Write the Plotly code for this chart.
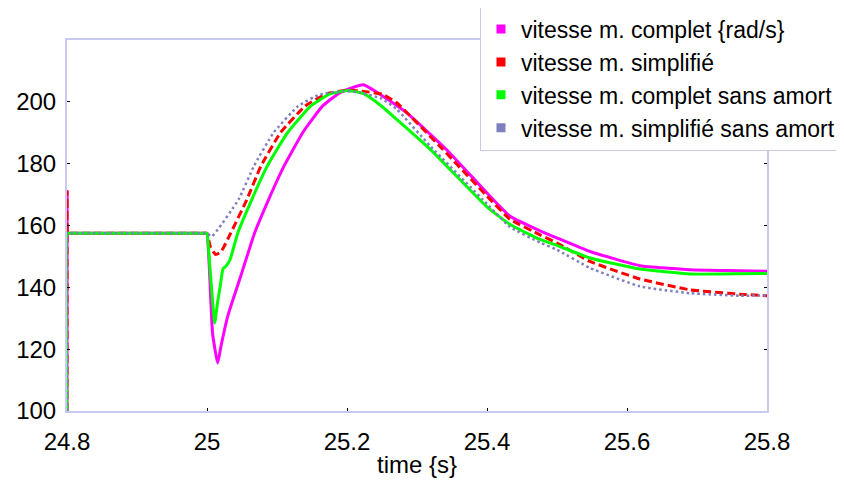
import plotly.graph_objects as go

# --- data ---
t_complet = [24.8, 24.8002, 24.8008, 24.802, 24.9, 24.998, 25.0, 25.003, 25.008, 25.0153, 25.02,
             25.03, 25.048, 25.068, 25.088, 25.11, 25.138, 25.165, 25.19, 25.2233, 25.25, 25.285,
             25.342, 25.40, 25.433, 25.4757, 25.4996, 25.547, 25.6186, 25.69, 25.761, 25.8]
v_complet = [100, 171, 157.5, 157.5, 157.5, 157.5, 157.5, 148, 125, 115.5, 121,
             131, 143.5, 157.6, 168.4, 179.2, 190.5, 198.6, 203, 205.5, 202, 196.5,
             184.6, 170.5, 163, 158.3, 156, 151.6, 147, 145.7, 145.4, 145.2]

t_simpl = [24.8, 24.8002, 24.8008, 24.802, 24.9, 24.998, 25.0, 25.005, 25.0124, 25.02, 25.034,
           25.057, 25.077, 25.105, 25.14, 25.17, 25.20, 25.2186, 25.25, 25.271, 25.337, 25.40,
           25.433, 25.4757, 25.4996, 25.547, 25.6186, 25.69, 25.761, 25.8]
v_simpl = [100, 171, 157.5, 157.5, 157.5, 157.5, 157.5, 153, 150.6, 151.5, 157.6,
           168.4, 179.2, 190, 198.6, 202.5, 203.8, 203.5, 202.5, 199.7, 184.6, 169.5,
           162, 157, 154.4, 148.4, 142.7, 139.2, 137.8, 137.3]

t_complet_sa = [24.8, 24.8003, 24.802, 24.9, 24.998, 25.0, 25.003, 25.011, 25.015, 25.0186,
                25.0229, 25.027, 25.033, 25.044, 25.064, 25.086, 25.115, 25.148, 25.175, 25.202,
                25.225, 25.25, 25.271, 25.319, 25.40, 25.433, 25.4757, 25.4996, 25.547, 25.6186,
                25.69, 25.761, 25.8]
v_complet_sa = [100, 157.5, 157.5, 157.5, 157.5, 157.5, 150, 128.5, 135, 140,
                146, 146.8, 149, 157.6, 168.4, 179.2, 190, 198.6, 202.5, 203.7,
                202.5, 198.5, 194.3, 184.6, 166, 160.3, 155.5, 153.6, 149.5, 145.9,
                144.3, 144.4, 144.5]

t_simpl_sa = [24.8, 24.8003, 24.802, 24.9, 24.998, 25.0, 25.007, 25.045, 25.067, 25.095,
              25.13, 25.16, 25.195, 25.2186, 25.25, 25.271, 25.319, 25.40, 25.433, 25.4757,
              25.4996, 25.547, 25.6186, 25.69, 25.761, 25.8]
v_simpl_sa = [100, 157.5, 157.5, 157.5, 157.5, 157.5, 156.5, 168.4, 179.2, 190,
              198.6, 202.3, 203.5, 203, 201, 197.6, 185.7, 167, 159.5, 154.5,
              152.2, 146.3, 140.3, 138.1, 137.3, 137.4]

names = ["vitesse m. complet {rad/s}", "vitesse m. simplifié",
         "vitesse m. complet sans amort", "vitesse m. simplifié sans amort"]
x_ticks = [24.8, 25.0, 25.2, 25.4, 25.6, 25.8]
x_ticktext = ["24.8", "25", "25.2", "25.4", "25.6", "25.8"]
y_ticks = [100, 120, 140, 160, 180, 200]

colors = ["#ff00ff", "#ff0000", "#00ff00", "#7f7fbf"]

fig = go.Figure()
fig.add_trace(go.Scatter(x=t_complet, y=v_complet, mode="lines", showlegend=False,
                         line=dict(color=colors[0], width=3, shape="spline", smoothing=0.4)))
fig.add_trace(go.Scatter(x=t_simpl, y=v_simpl, mode="lines", showlegend=False,
                         line=dict(color=colors[1], width=3, dash="8px,4px", shape="spline", smoothing=0.4)))
fig.add_trace(go.Scatter(x=t_complet_sa, y=v_complet_sa, mode="lines", showlegend=False,
                         line=dict(color=colors[2], width=3, shape="spline", smoothing=0.4)))
fig.add_trace(go.Scatter(x=t_simpl_sa, y=v_simpl_sa, mode="lines", showlegend=False,
                         line=dict(color=colors[3], width=2.5, dash="2.5px,3px", shape="spline", smoothing=0.4)))
for name, c in zip(names, colors):
    fig.add_trace(go.Scatter(x=[None], y=[None], mode="markers", name=name,
                             marker=dict(symbol="square", size=9, color=c)))

fig.update_layout(
    width=844, height=483,
    margin=dict(l=59, r=85, t=32, b=80, autoexpand=False),
    plot_bgcolor="white", paper_bgcolor="white",
    font=dict(family="Liberation Sans, Arial, sans-serif", color="black", size=23),
    legend=dict(x=0.59, y=1.09, xanchor="left", yanchor="top",
                bgcolor="white", bordercolor="#c8c8e8", borderwidth=1,
                font=dict(size=23), tracegroupgap=0, itemwidth=30),
    xaxis=dict(range=[24.8, 25.8], tickvals=x_ticks, ticktext=x_ticktext,
               showgrid=False, zeroline=False, showline=True, linecolor="#c8c8f0",
               linewidth=2, mirror=True, ticks="inside", ticklen=3, tickcolor="black",
               tickwidth=1, tickfont=dict(size=24), ticklabelstandoff=8,
               title=dict(text="time {s}", font=dict(size=24), standoff=2)),
    yaxis=dict(range=[100, 220], tickvals=y_ticks,
               showgrid=False, zeroline=False, showline=True, linecolor="#c8c8f0",
               linewidth=2, mirror="ticks", ticks="inside", ticklen=3, tickcolor="black",
               tickwidth=1, tickfont=dict(size=24), ticklabelstandoff=4),
)

fig.write_html("out.html")
